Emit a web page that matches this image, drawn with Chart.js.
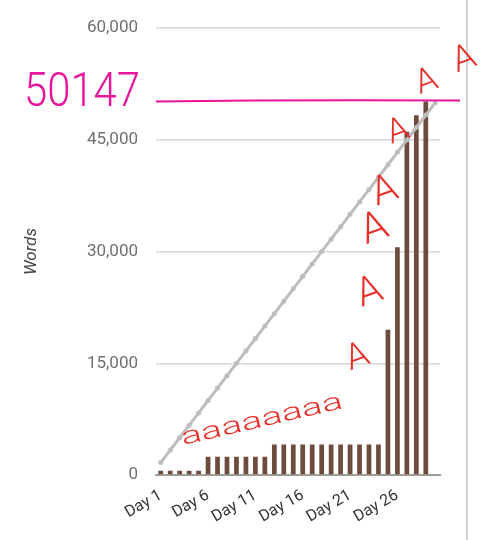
<!DOCTYPE html>
<html>
<head>
<meta charset="utf-8">
<script src="https://cdn.jsdelivr.net/npm/chart.js@4.4.0/dist/chart.umd.min.js"></script>
<style>
  html, body { margin: 0; padding: 0; background: #fff; }
  #wrap { width: 484px; height: 540px; }
</style>
</head>
<body>
<div id="wrap"><canvas id="wordsChart" width="484" height="540"></canvas></div>
<script>
// data
const days = ['Day 1', 'Day 2', 'Day 3', 'Day 4', 'Day 5', 'Day 6', 'Day 7', 'Day 8', 'Day 9', 'Day 10',
  'Day 11', 'Day 12', 'Day 13', 'Day 14', 'Day 15', 'Day 16', 'Day 17', 'Day 18', 'Day 19', 'Day 20',
  'Day 21', 'Day 22', 'Day 23', 'Day 24', 'Day 25', 'Day 26', 'Day 27', 'Day 28', 'Day 29', 'Day 30'];
const wordCount = [580, 580, 580, 580, 580, 2450, 2450, 2450, 2450, 2450, 2450, 2450,
  4100, 4100, 4100, 4100, 4100, 4100, 4100, 4100, 4100, 4100, 4100, 4100,
  19500, 30600, 46100, 48300, 50147, null];
const goalPace = [1667, 3333, 5000, 6667, 8333, 10000, 11667, 13333, 15000, 16667,
  18333, 20000, 21667, 23333, 25000, 26667, 28333, 30000, 31667, 33333,
  35000, 36667, 38333, 40000, 41667, 43333, 45000, 46667, 48333, 50000];
const finalCount = 50147;
const yMax = 60000;
const yStep = 15000;

// handwritten scribbles, anchored in (day index, words)
const lowNote = { text: 'aaaaaaaa', day: 10.7, words: 7300 };
const capsNotes = [
  { day: 20.8, words: 15700, size: 36 },
  { day: 22.1, words: 24400, size: 40 },
  { day: 22.6, words: 32900, size: 42 },
  { day: 23.7, words: 38000, size: 40 },
  { day: 25.1, words: 46000, size: 34 },
  { day: 28.1, words: 52700, size: 34 },
  { day: 32.1, words: 55700, size: 36 }
];

const scribbles = {
  id: 'scribbles',
  afterDatasetsDraw(chart) {
    const { ctx, chartArea, scales: { x, y } } = chart;
    ctx.save();

    // divider at the right edge of the screenshot
    ctx.strokeStyle = '#d4d4d4';
    ctx.lineWidth = 2;
    ctx.beginPath();
    ctx.moveTo(chartArea.right + 27, 0);
    ctx.lineTo(chartArea.right + 27, chart.height);
    ctx.stroke();

    // magenta final-count line + label
    const yFinal = y.getPixelForValue(finalCount);
    ctx.strokeStyle = '#e8159c';
    ctx.lineWidth = 2;
    ctx.beginPath();
    ctx.moveTo(chartArea.left, yFinal);
    ctx.quadraticCurveTo((chartArea.left + chartArea.right) / 2, yFinal - 2, chartArea.right + 20, yFinal - 1);
    ctx.stroke();

    ctx.fillStyle = '#e8159c';
    ctx.font = '300 48px Roboto';
    ctx.textAlign = 'center';
    ctx.textBaseline = 'middle';
    const label = String(finalCount);
    const lw = ctx.measureText(label).width;
    ctx.save();
    ctx.translate(chartArea.left - 74, yFinal - 8);
    ctx.scale(116 / lw, 1);
    ctx.fillText(label, 0, 0);
    ctx.restore();

    // red scribbles
    ctx.fillStyle = '#e8302a';
    ctx.font = '300 24px Roboto';
    const aw = ctx.measureText(lowNote.text).width;
    ctx.save();
    ctx.translate(x.getPixelForValue(lowNote.day), y.getPixelForValue(lowNote.words));
    ctx.rotate(-13 * Math.PI / 180);
    ctx.scale(165 / aw, 1);
    ctx.fillText(lowNote.text, 0, 0);
    ctx.restore();

    capsNotes.forEach(n => {
      ctx.save();
      ctx.translate(x.getPixelForValue(n.day), y.getPixelForValue(n.words));
      ctx.rotate(-20 * Math.PI / 180);
      ctx.font = '300 ' + n.size + 'px Roboto';
      ctx.fillText('A', 0, 0);
      ctx.restore();
    });

    ctx.restore();
  }
};

new Chart(document.getElementById('wordsChart'), {
  type: 'bar',
  data: {
    labels: days,
    datasets: [
      {
        type: 'line',
        data: goalPace,
        borderColor: '#bdbdbd',
        backgroundColor: '#bdbdbd',
        borderWidth: 3,
        pointRadius: 2.5,
        pointBorderWidth: 0,
        order: 0
      },
      {
        data: wordCount,
        backgroundColor: '#6d4c3e',
        categoryPercentage: 1,
        barPercentage: 0.5,
        order: 1
      }
    ]
  },
  options: {
    responsive: false,
    animation: false,
    devicePixelRatio: 1,
    layout: { padding: { top: 25, right: 44, left: 0, bottom: 0 } },
    plugins: { legend: { display: false }, tooltip: { enabled: false } },
    scales: {
      x: {
        grid: { display: false },
        border: { display: true, color: '#9e9e9e', width: 2 },
        ticks: {
          autoSkip: false,
          maxRotation: 30,
          minRotation: 30,
          color: '#333',
          font: { family: 'Roboto', size: 16 },
          callback: (v, i) => (i % 5 === 0 ? days[i] : '')
        },
        afterFit: s => { s.height = 65; }
      },
      y: {
        min: 0,
        max: yMax,
        ticks: {
          stepSize: yStep,
          color: '#6f6f6f',
          padding: 18,
          font: { family: 'Roboto', size: 17 },
          callback: v => v.toLocaleString('en-US')
        },
        grid: { color: '#d6d6d6', lineWidth: 1.5, drawTicks: false },
        border: { display: false },
        title: {
          display: true,
          text: 'Words',
          color: '#444',
          font: { family: 'Roboto', size: 17, style: 'italic' },
          padding: { top: 22 }
        },
        afterFit: s => { s.width = 156; }
      }
    }
  },
  plugins: [scribbles]
});
</script>
</body>
</html>
